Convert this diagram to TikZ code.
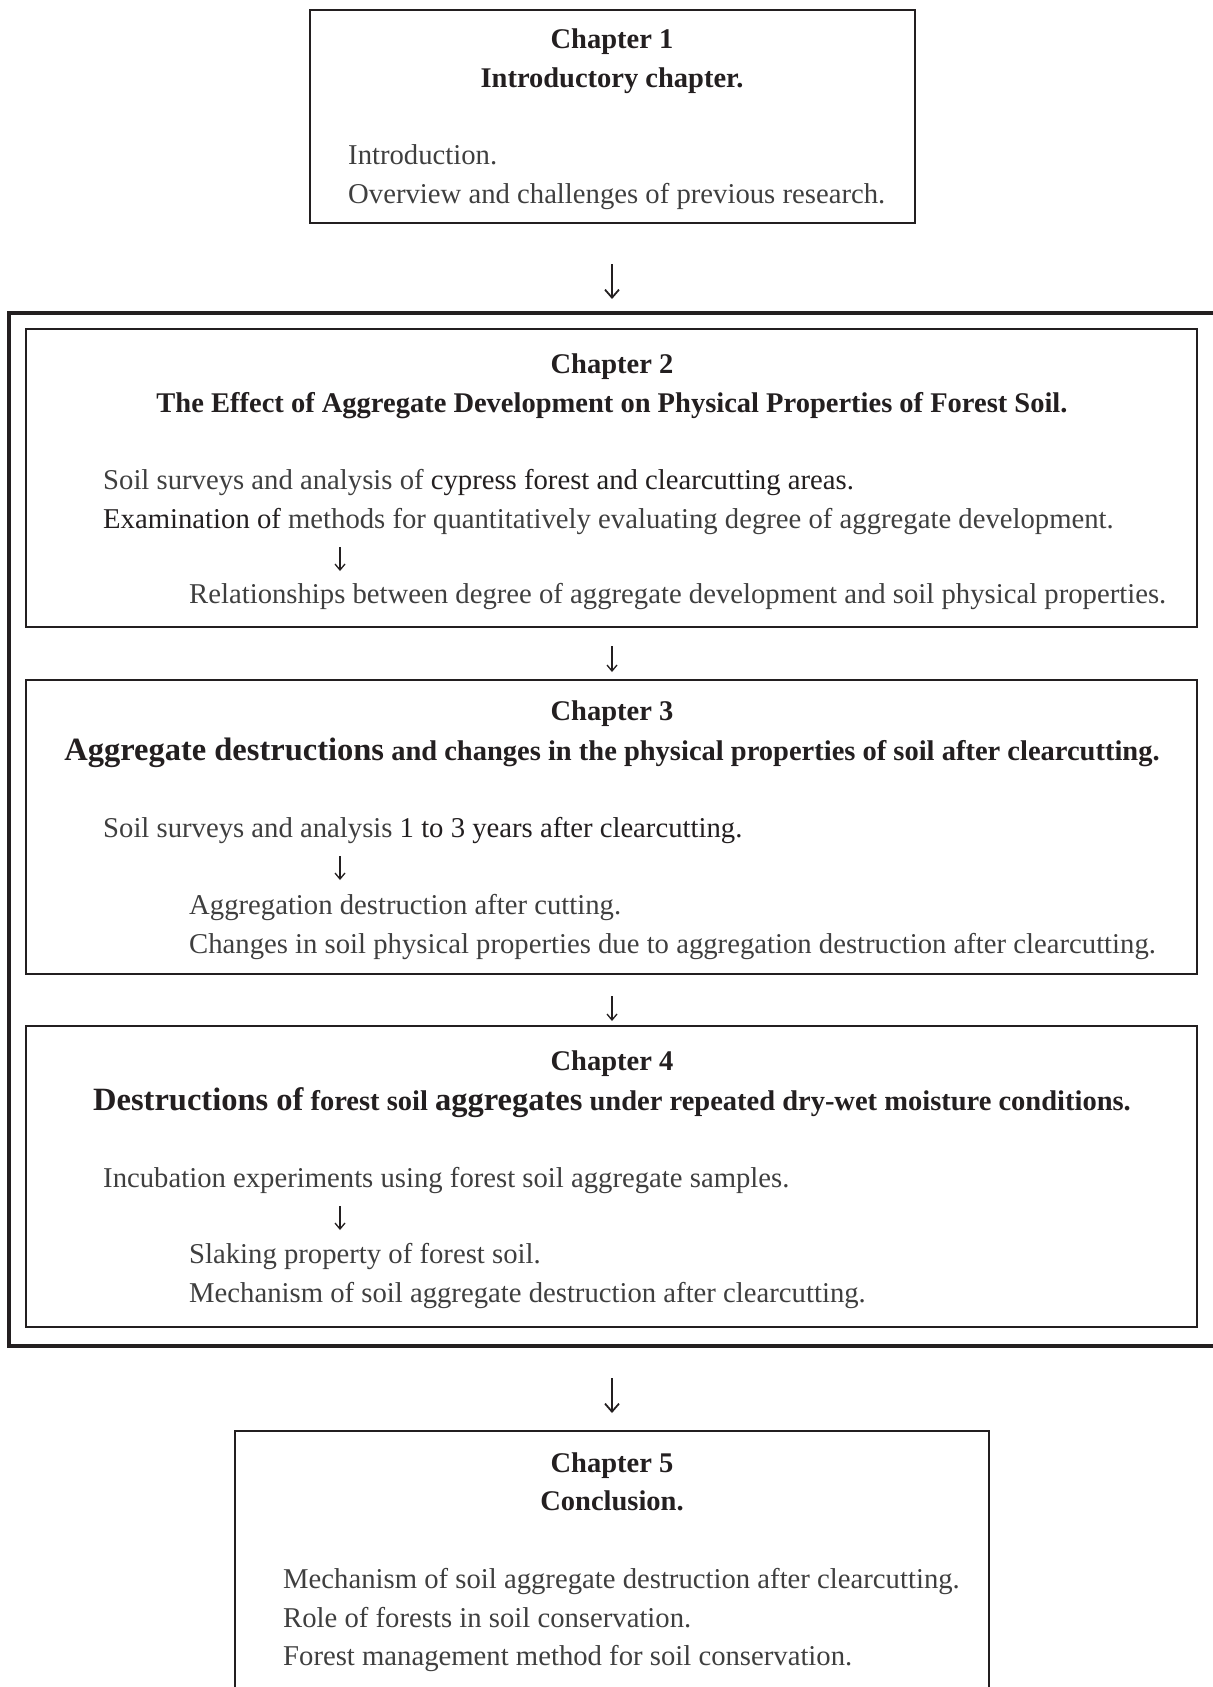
\documentclass[tikz,border=0pt]{standalone}
\usepackage{fontspec}
\setmainfont{Liberation Serif}
\usetikzlibrary{arrows.meta}
\definecolor{ink}{HTML}{231F20}
\definecolor{grey}{HTML}{3F3F3F}
\newcommand{\bigsize}{\fontsize{32.5}{38}\selectfont}
\begin{document}
\begin{tikzpicture}[x=1pt,y=-1pt,
    box/.style={draw=ink,line width=2.5pt,rectangle,inner sep=0pt},
    frame/.style={draw=ink,line width=3.5pt},
    head/.style={anchor=mid,text=ink,inner sep=0pt,font=\bfseries\fontsize{28.5}{34}\selectfont},
    body/.style={anchor=mid west,text=grey,inner sep=0pt,font=\fontsize{28.7}{38}\selectfont},
    flow/.style={draw=ink,line width=1.8pt,-{Straight Barb[length=8pt,width=14pt]}},
    small/.style={draw=ink,line width=1.3pt,-{Straight Barb[length=6pt,width=10pt]}}]
      \clip(0,0) rectangle (1213,1687);
      \node(ch1)[box,minimum width=605,minimum height=213] at (612.5,116.5){};
      \node(ch2)[box,minimum width=1171,minimum height=298] at (611.5,478){};
      \node(ch3)[box,minimum width=1171,minimum height=294] at (611.5,827){};
      \node(ch4)[box,minimum width=1171,minimum height=301] at (611.5,1176.5){};
      \node(ch5)[box,minimum width=754,minimum height=269] at (612,1565.5){};
      \draw[frame] (1240,313) -- (9,313) -- (9,1346) -- (1240,1346);
      \node(h1)[head] at (612,46){Chapter 1};
      \node(t1)[head] at (612,85){Introductory chapter.};
      \node(b11)[body] at (348,162){Introduction.};
      \node(b12)[body] at (348,201){Overview and challenges of previous research.};
      \node(h2)[head] at (612,371){Chapter 2};
      \node(t2)[head] at (612,410){The Effect of Aggregate Development on Physical Properties of Forest Soil.};
      \node(b21)[body] at (103,487){Soil surveys and analysis of \textcolor{ink}{cypress forest and clearcutting areas.}};
      \node(b22)[body] at (103,526){\textcolor{ink}{Examination of} methods for quantitatively evaluating degree of aggregate development.};
      \node(b23)[body] at (189,601){Relationships between degree of aggregate development and soil physical properties.};
      \node(h3)[head] at (612,718){Chapter 3};
      \node(t3)[head] at (612,758){{\bigsize Aggregate destructions} and changes in the physical properties of soil after clearcutting.};
      \node(b31)[body] at (103,835){Soil surveys and analysis \textcolor{ink}{1 to 3 years after clearcutting.}};
      \node(b32)[body] at (189,912){Aggregation destruction after cutting.};
      \node(b33)[body] at (189,951){Changes in soil physical properties due to aggregation destruction after clearcutting.};
      \node(h4)[head] at (612,1068){Chapter 4};
      \node(t4)[head] at (612,1108){{\bigsize Destructions of} forest soil {\bigsize aggregates} under repeated dry-wet moisture conditions.};
      \node(b41)[body] at (103,1185){Incubation experiments using forest soil aggregate samples.};
      \node(b42)[body] at (189,1261){Slaking property of forest soil.};
      \node(b43)[body] at (189,1300){Mechanism of soil aggregate destruction after clearcutting.};
      \node(h5)[head] at (612,1470){Chapter 5};
      \node(t5)[head] at (612,1508){Conclusion.};
      \node(b51)[body] at (283,1586){Mechanism of soil aggregate destruction after clearcutting.};
      \node(b52)[body] at (283,1625){Role of forests in soil conservation.};
      \node(b53)[body] at (283,1663){Forest management method for soil conservation.};
      \coordinate(a1s) at (612,264); \coordinate(a1e) at (612,299);
      \coordinate(a2s) at (340,547); \coordinate(a2e) at (340,571);
      \coordinate(a3s) at (612,646); \coordinate(a3e) at (612,672);
      \coordinate(a4s) at (340,856); \coordinate(a4e) at (340,880);
      \coordinate(a5s) at (612,996); \coordinate(a5e) at (612,1021);
      \coordinate(a6s) at (340,1206); \coordinate(a6e) at (340,1230);
      \coordinate(a7s) at (612,1378); \coordinate(a7e) at (612,1413);
      \path (a1s) edge[flow] (a1e);
      \path (a2s) edge[small] (a2e);
      \path (a3s) edge[small] (a3e);
      \path (a4s) edge[small] (a4e);
      \path (a5s) edge[small] (a5e);
      \path (a6s) edge[small] (a6e);
      \path (a7s) edge[flow] (a7e);
\end{tikzpicture}
\end{document}
